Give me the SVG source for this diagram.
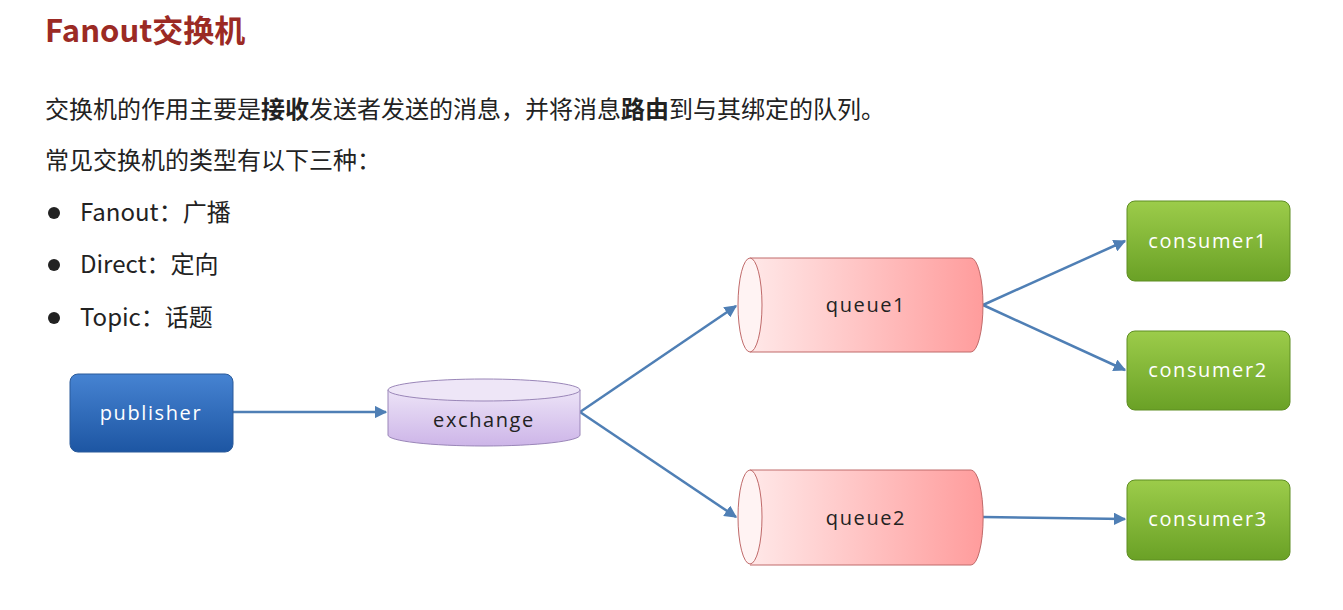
<svg xmlns="http://www.w3.org/2000/svg" width="1343" height="610" viewBox="0 0 1343 610">
<defs>
<style>
.t{font-family:"Noto Sans CJK SC","Noto Sans",sans-serif;fill:#222;font-size:24px}
.lbl{font-family:"Open Sans","DejaVu Sans",sans-serif;font-size:20px;letter-spacing:1.6px;text-anchor:middle}
.c{stroke:#4f7fb5;stroke-width:2.5;fill:none;marker-end:url(#ah)}
</style>
<marker id="ah" viewBox="0 0 10 10" refX="9" refY="5" markerWidth="5" markerHeight="5" orient="auto"><path d="M0,0L10,5L0,10z" fill="#4f7fb5"/></marker>
<linearGradient id="gb" x1="0" y1="0" x2="0" y2="1"><stop offset="0" stop-color="#4683d2"/><stop offset="1" stop-color="#1d56a3"/></linearGradient>
<linearGradient id="gg" x1="0" y1="0" x2="0" y2="1"><stop offset="0" stop-color="#9ccc4a"/><stop offset="1" stop-color="#6aa126"/></linearGradient>
<linearGradient id="gp" x1="0" y1="0" x2="0" y2="1"><stop offset="0" stop-color="#ece3f7"/><stop offset="1" stop-color="#cdb5e8"/></linearGradient>
<linearGradient id="gr" x1="0" y1="0" x2="1" y2="0"><stop offset="0" stop-color="#ffe8e8"/><stop offset="1" stop-color="#ff9c9c"/></linearGradient>
</defs>
<rect width="1343" height="610" fill="#fff"/>
<text x="45" y="42" style="font-family:'Noto Sans CJK SC',sans-serif;font-size:31px;font-weight:bold;fill:#9b2a24">Fanout交换机</text>
<text class="t" x="45" y="118">交换机的作用主要是<tspan font-weight="bold">接收</tspan>发送者发送的消息，并将消息<tspan font-weight="bold">路由</tspan>到与其绑定的队列。</text>
<text class="t" x="45" y="169">常见交换机的类型有以下三种：</text>
<circle cx="54" cy="213" r="6" fill="#222"/><text class="t" x="80" y="221">Fanout：广播</text>
<circle cx="54" cy="265" r="6" fill="#222"/><text class="t" x="80" y="273">Direct：定向</text>
<circle cx="54" cy="318" r="6" fill="#222"/><text class="t" x="80" y="326">Topic：话题</text>
<g id="connectors">
<path class="c" d="M233,412H386"/>
<path class="c" d="M580,412L736,306"/>
<path class="c" d="M580,412L736,517"/>
<path class="c" d="M983,305L1125,241"/>
<path class="c" d="M983,305L1125,370"/>
<path class="c" d="M983,517L1125,519"/>
</g>
<g id="publisher"><rect x="70" y="374" width="163" height="78" rx="8" fill="url(#gb)" stroke="#2a5a9a"/><text class="lbl" x="151" y="420" fill="#fff">publisher</text></g>
<g id="exchange"><path d="M388,390V435A96,11 0 0 0 580,435V390" fill="url(#gp)" stroke="#9a86b8"/><ellipse cx="484" cy="390" rx="96" ry="11" fill="#eee6f7" stroke="#9a86b8"/><text class="lbl" x="484" y="427" fill="#222">exchange</text></g>
<g id="queue1"><path d="M750,258H971A12,47 0 0 1 971,352H750" fill="url(#gr)" stroke="#c06a6a"/><ellipse cx="750" cy="305" rx="12" ry="47" fill="#fff3f3" stroke="#c06a6a"/><text class="lbl" x="866" y="312" fill="#222">queue1</text></g>
<g id="queue2"><path d="M750,470H971A12,47 0 0 1 971,565H750" fill="url(#gr)" stroke="#c06a6a"/><ellipse cx="750" cy="517" rx="12" ry="47" fill="#fff3f3" stroke="#c06a6a"/><text class="lbl" x="866" y="525" fill="#222">queue2</text></g>
<g id="consumer1"><rect x="1127" y="201" width="163" height="80" rx="8" fill="url(#gg)" stroke="#5e8e22"/><text class="lbl" x="1208" y="248" fill="#fff">consumer1</text></g>
<g id="consumer2"><rect x="1127" y="331" width="163" height="79" rx="8" fill="url(#gg)" stroke="#5e8e22"/><text class="lbl" x="1208" y="377" fill="#fff">consumer2</text></g>
<g id="consumer3"><rect x="1127" y="480" width="163" height="80" rx="8" fill="url(#gg)" stroke="#5e8e22"/><text class="lbl" x="1208" y="526" fill="#fff">consumer3</text></g>
</svg>
